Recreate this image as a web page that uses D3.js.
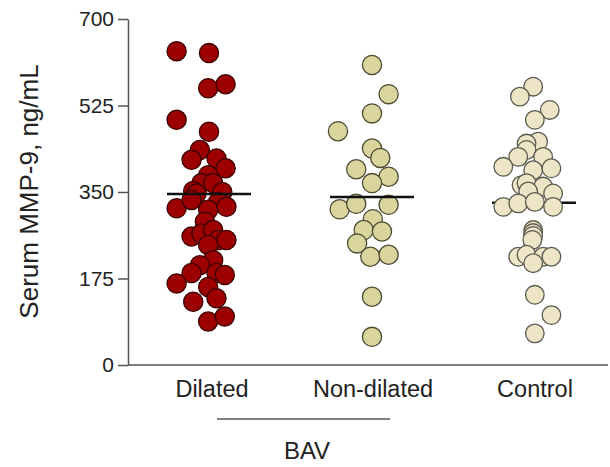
<!DOCTYPE html>
<html>
<head>
<meta charset="utf-8">
<script src="https://cdn.jsdelivr.net/npm/d3@7"></script>
<style>
  html, body { margin: 0; padding: 0; background: #fff; }
  svg { display: block; }
  text { font-family: "Liberation Sans", Arial, sans-serif; fill: #222; }
</style>
</head>
<body>
<svg id="chart" width="610" height="467"></svg>
<script>
// ---- data ----
const categories = ["Dilated", "Non-dilated", "Control"];
const groupLabel = "BAV";
const yTicks = [0, 175, 350, 525, 700];
const yTitle = "Serum MMP-9, ng/mL";

// values (ng/mL) and horizontal jitter (in dot-slot units)
const dilatedValues = [635, 631, 560, 568, 496, 472, 435, 415, 418, 398, 384, 368, 368, 352, 350, 347,
  317, 334, 330, 320, 314, 290, 260, 266, 273, 253, 253, 243, 212, 202, 186, 186, 182, 165, 158, 135, 128, 88, 98];
const dilatedJitter = [-3.9, 0, -0.1, 2.0, -3.9, 0, -1.1, -2.1, 0.9, 2.0, -0.1, -0.9, 0.5, -1.9, 1.6, -1.5,
  -3.9, -2.1, 1.1, 2.1, -0.1, -0.5, -2.1, -0.9, 0.5, 1.1, 2.1, -0.1, 0.5, -1.1, -2.1, 0.9, 1.9, -3.9, -0.1, 0.9, -1.9, -0.1, 1.9];

const nonDilatedValues = [607, 548, 509, 473, 438, 419, 396, 381, 368, 315, 326, 324, 295, 273, 270, 246, 219, 223, 138, 57];
const nonDilatedJitter = [0, 2.0, 0, -4.1, 0, 1.0, -1.9, 2.0, 0, -3.9, -1.9, 2.0, 0.1, -1.0, 1.2, -1.8, -0.2, 2.0, 0, 0];

const controlValues = [563, 543, 516, 496, 452, 448, 435, 421, 421, 401, 394, 398, 364, 368, 361, 347, 351,
  320, 327, 330, 320, 273, 267, 261, 253, 219, 223, 219, 219, 206, 142, 101, 64];
const controlJitter = [-0.1, -1.7, 1.9, 0.1, 0.5, -0.9, -0.9, -1.9, 1.1, -3.7, -0.1, 2.1, -1.5, -0.9, 1.1, 2.3, -0.7,
  -3.7, -1.9, 0.1, 2.3, -0.1, -0.1, -0.1, -0.2, -1.9, -0.9, 1.1, 2.1, -0.1, 0.1, 2.1, 0.1];

const medians = [346, 340, 328];
const medianOnTop = [true, true, false];

// ---- styles ----
const fills = ["#9c0000", "#d9d59d", "#eee5c6"];
const strokes = ["#3b0000", "#4d4b33", "#5a5a50"];

const groups = [
  { values: dilatedValues, jitter: dilatedJitter },
  { values: nonDilatedValues, jitter: nonDilatedJitter },
  { values: controlValues, jitter: controlJitter }
];

const svg = d3.select("#chart");

const y = d3.scaleLinear().domain([0, 700]).range([365, 19]);
const x = d3.scalePoint().domain(categories).range([209, 534]);
const xCenters = [209, 372, 534];
const jit = d3.scaleLinear().domain([0, 1]).range([0, 8.3]);
const axisLeftX = 128;
const axisRightX = 608;

// y axis
const yAxis = d3.axisLeft(y).tickValues(yTicks).tickSize(10).tickPadding(4).tickSizeOuter(0);
const gy = svg.append("g").attr("transform", `translate(${axisLeftX},0)`).call(yAxis);
gy.select(".domain").attr("stroke", "#555").attr("stroke-width", 1.5);
gy.selectAll(".tick line").attr("stroke", "#555").attr("stroke-width", 1.5);
gy.selectAll(".tick text")
  .style("font-family", '"Liberation Sans", Arial, sans-serif')
  .style("font-size", "21px")
  .attr("fill", "#222");

// x axis line
svg.append("line")
  .attr("x1", axisLeftX).attr("x2", axisRightX)
  .attr("y1", y(0)).attr("y2", y(0))
  .attr("stroke", "#555").attr("stroke-width", 1.5);

// y title
svg.append("text")
  .attr("transform", `translate(38,${(58 + 325) / 2}) rotate(-90)`)
  .attr("text-anchor", "middle")
  .style("font-size", "26px")
  .text(yTitle);

// category labels
svg.selectAll("text.cat").data(categories).join("text")
  .attr("class", "cat")
  .attr("x", (d, i) => [212, 373, 535][i])
  .attr("y", 397)
  .attr("text-anchor", "middle")
  .style("font-size", "23.5px")
  .text(d => d);

// BAV bracket
svg.append("line")
  .attr("x1", 217).attr("x2", 390).attr("y1", 419).attr("y2", 419)
  .attr("stroke", "#555").attr("stroke-width", 1.5);
svg.append("text")
  .attr("x", 307).attr("y", 459)
  .attr("text-anchor", "middle")
  .style("font-size", "24px")
  .text(groupLabel);

function drawMedian(i) {
  svg.append("line")
    .attr("x1", xCenters[i] - 42).attr("x2", xCenters[i] + 42)
    .attr("y1", y(medians[i])).attr("y2", y(medians[i]))
    .attr("stroke", "#111").attr("stroke-width", 2.5);
}

groups.forEach((g, i) => {
  if (!medianOnTop[i]) drawMedian(i);
  svg.append("g").selectAll("circle")
    .data(g.values.map((v, k) => ({ v, j: g.jitter[k] })))
    .join("circle")
    .attr("cx", d => x(categories[i]) + (xCenters[i] - x(categories[i])) + jit(d.j))
    .attr("cy", d => y(d.v))
    .attr("r", i === 2 ? 9.3 : 9.6)
    .attr("fill", fills[i])
    .attr("stroke", strokes[i])
    .attr("stroke-width", 1.3);
  if (medianOnTop[i]) drawMedian(i);
});
</script>
</body>
</html>
